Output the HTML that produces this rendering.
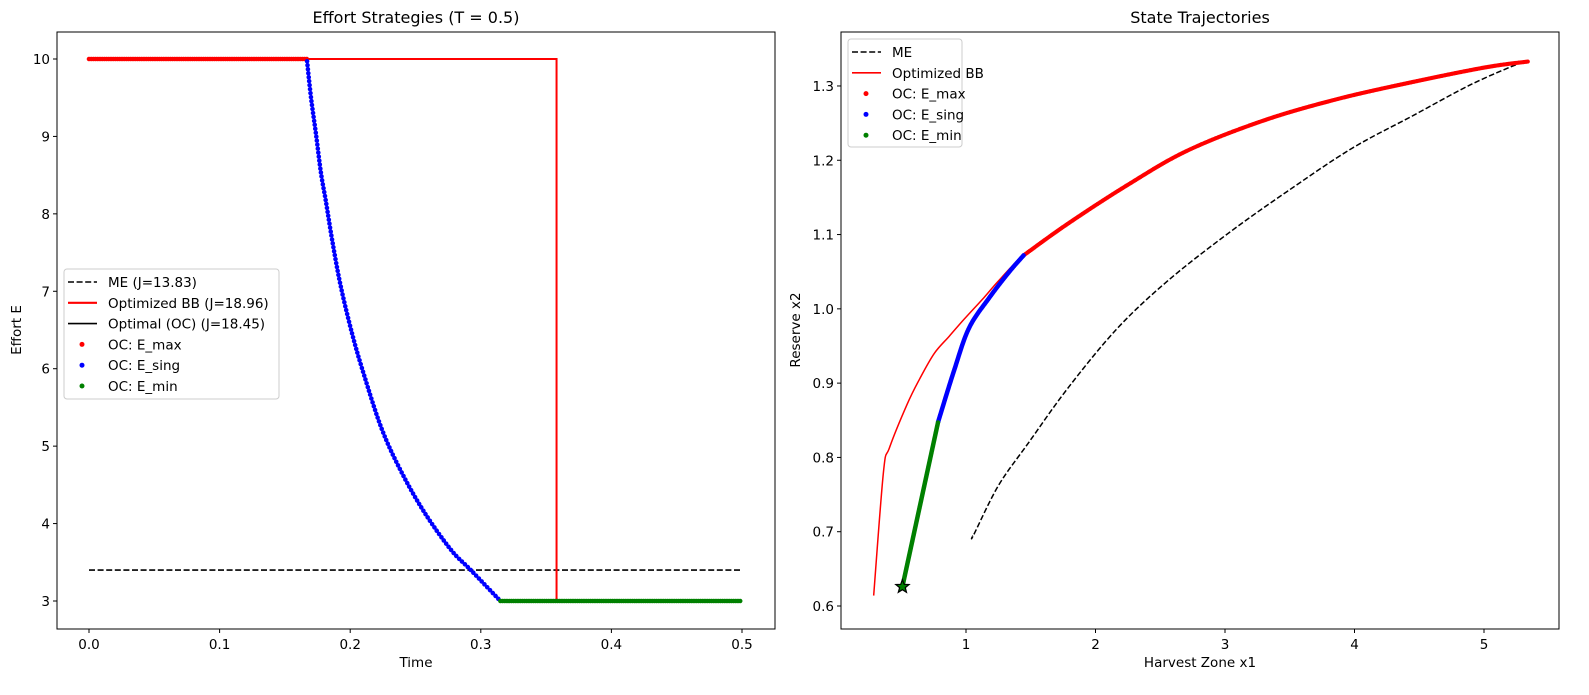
<!DOCTYPE html>
<html><head><meta charset="utf-8"><style>
body{margin:0;background:#fff;}
svg text{font-family:"DejaVu Sans","Liberation Sans",sans-serif;fill:#000;}
</style></head><body>
<svg id="fig" width="1589" height="690" xmlns="http://www.w3.org/2000/svg">
<rect width="1589" height="690" fill="#fff"/>
<g id="left"></g>
<g id="right"></g>
</svg>
<script>
// ---- Left chart data ----
const leftXTicks = [0.0, 0.1, 0.2, 0.3, 0.4, 0.5];
const leftYTicks = [3, 4, 5, 6, 7, 8, 9, 10];
const meT = [0, 0.5];
const meE = [3.4, 3.4];
const bbT = [0, 0.358, 0.358, 0.5];
const bbE = [10, 10, 3, 3];
const emaxT = [0, 0.167];
const emaxE = [10, 10];
const esingT = [0.167, 0.170, 0.1738, 0.1776, 0.1814, 0.1864, 0.1927, 0.2015, 0.2104, 0.2242, 0.2394, 0.257, 0.2772, 0.2923, 0.315];
const esingE = [9.97, 9.50, 9.03, 8.53, 8.16, 7.64, 7.07, 6.45, 5.93, 5.22, 4.66, 4.14, 3.66, 3.40, 3.0];
const eminT = [0.315, 0.5];
const eminE = [3, 3];
// ---- Right chart data ----
const rightXTicks = [1, 2, 3, 4, 5];
const rightYTicks = [0.6, 0.7, 0.8, 0.9, 1.0, 1.1, 1.2, 1.3];
const meX1 = [1.05, 1.06, 1.25, 1.48, 1.79, 2.17, 2.56, 3.02, 3.48, 3.98, 4.44, 4.90, 5.28, 5.33];
const meX2 = [0.694, 0.696, 0.762, 0.819, 0.894, 0.974, 1.038, 1.101, 1.158, 1.216, 1.259, 1.302, 1.331, 1.333];
const bbX1 = [0.287, 0.363, 0.409, 0.544, 0.64, 0.755, 0.87, 0.985, 1.138, 1.253, 1.445, 1.79, 2.25, 2.71, 3.29, 3.86, 4.44, 5.01, 5.345];
const bbX2 = [0.614, 0.781, 0.813, 0.871, 0.905, 0.94, 0.963, 0.986, 1.015, 1.038, 1.072, 1.115, 1.167, 1.213, 1.253, 1.282, 1.305, 1.325, 1.333];
const maxX1 = [1.445, 1.79, 2.25, 2.71, 3.29, 3.86, 4.44, 5.01, 5.345];
const maxX2 = [1.072, 1.115, 1.167, 1.213, 1.253, 1.282, 1.305, 1.325, 1.333];
const singX1 = [0.785, 0.908, 1.023, 1.18, 1.33, 1.445];
const singX2 = [0.848, 0.917, 0.974, 1.015, 1.049, 1.072];
const minX1 = [0.509, 0.785];
const minX2 = [0.626, 0.848];
const startX1 = 0.509, startX2 = 0.626;

const NS = "http://www.w3.org/2000/svg";
function mk(parent, tag, attrs){const e=document.createElementNS(NS,tag);for(const k in attrs)e.setAttribute(k,attrs[k]);parent.appendChild(e);return e;}
function pathD(xs,ys,fx,fy){
  // Catmull-Rom smoothing through the data points
  const P=xs.map((v,i)=>[fx(v),fy(ys[i])]);
  let d='M'+P[0][0].toFixed(2)+','+P[0][1].toFixed(2);
  for(let i=0;i<P.length-1;i++){
    const p0=P[i-1]||P[i],p1=P[i],p2=P[i+1],p3=P[i+2]||P[i+1];
    const straight=(p1[0]===p2[0]||p1[1]===p2[1]);
    if(straight||P.length<3){d+='L'+p2[0].toFixed(2)+','+p2[1].toFixed(2);continue;}
    const c1=[p1[0]+(p2[0]-p0[0])/6,p1[1]+(p2[1]-p0[1])/6];
    const c2=[p2[0]-(p3[0]-p1[0])/6,p2[1]-(p3[1]-p1[1])/6];
    d+='C'+c1.map(v=>v.toFixed(2)).join(',')+' '+c2.map(v=>v.toFixed(2)).join(',')+' '+p2[0].toFixed(2)+','+p2[1].toFixed(2);
  }
  return d;
}
function linD(xs,ys,fx,fy){return xs.map((v,i)=>(i?'L':'M')+fx(v).toFixed(2)+','+fy(ys[i]).toFixed(2)).join('');}

const L = document.getElementById('left');
const lx = v => 89 + v*1306;
const ly = v => 601 - (v-3)*77.43;
function frame(g, x0,y0,x1,y1){
  const r = mk(g,'rect',{x:x0,y:y0,width:x1-x0,height:y1-y0,fill:'none',stroke:'#000','stroke-width':1});
  
  
}
function ticks(g, xt, yt, fx, fy, x0, y1, fmtx, fmty){
  xt.forEach(v=>{const X=fx(v);
    const t=mk(g,'line',{x1:X,x2:X,y1:y1,y2:y1+4,stroke:'#000'});
    
    
    const tx=mk(g,'text',{x:X,y:y1+20,'font-size':'13.5','text-anchor':'middle'});tx.textContent=fmtx(v);
    
    });
  yt.forEach(v=>{const Y=fy(v);
    const t=mk(g,'line',{x1:x0-4,x2:x0,y1:Y,y2:Y,stroke:'#000'});
    
    
    const tx=mk(g,'text',{x:x0-7,y:Y+5,'font-size':'13.5','text-anchor':'end'});tx.textContent=fmty(v);
    
    });
}
function txt(g,name,s,attrs){const t=mk(g,'text',attrs);t.textContent=s;return t;}

ticks(L, leftXTicks, leftYTicks, lx, ly, 57, 629, v=>v.toFixed(1), v=>String(v));
txt(L,'chart-title','Effort Strategies (T = 0.5)',{x:416,y:23,'font-size':'16','text-anchor':'middle'});
txt(L,'x-axis-title','Time',{x:416,y:667,'font-size':'13.5','text-anchor':'middle'});
txt(L,'y-axis-title','Effort E',{x:21,y:330,'font-size':'13.5','text-anchor':'middle',transform:'rotate(-90 21 330)'});

let p;
p=mk(L,'path',{d:linD(meT,meE,lx,ly),fill:'none',stroke:'#000','stroke-width':1.6,'stroke-dasharray':'6,2.6'});


p=mk(L,'path',{d:linD(bbT,bbE,lx,ly),fill:'none',stroke:'#f00','stroke-width':2});


function dots(g,name,xs,ys,fx,fy,color,w,gap){
  const e=mk(g,'path',{d:pathD(xs,ys,fx,fy),fill:'none',stroke:color,'stroke-width':w,'stroke-linecap':'round','stroke-dasharray':'0 '+gap});
  
  
}
dots(L,'oc-emax-points',emaxT,emaxE,lx,ly,'#f00',4.6,2.2);
dots(L,'oc-esing-points',esingT,esingE,lx,ly,'#00f',4.6,4);
dots(L,'oc-emin-points',eminT,eminE,lx,ly,'#008000',4.6,2.2);
frame(L,57,32,775,629);

function legend(g,x,y,w,h,items,name){
  const lg=mk(g,'g',{});
  
  
  mk(lg,'rect',{x:x,y:y,width:w,height:h,rx:3,fill:'#fff','fill-opacity':0.85,stroke:'#ccc'});
  items.forEach((it,i)=>{const Y=y+13+i*20.8;
    const ent=mk(lg,'g',{});
    
    
    if(it.t==='dash') mk(ent,'line',{x1:x+4,x2:x+33,y1:Y,y2:Y,stroke:'#000','stroke-width':1.6,'stroke-dasharray':'6,2.6'});
    else if(it.t==='line') mk(ent,'line',{x1:x+4,x2:x+33,y1:Y,y2:Y,stroke:it.c,'stroke-width':it.w});
    else mk(ent,'circle',{cx:x+18,cy:Y,r:2.5,fill:it.c});
    const tt=mk(ent,'text',{x:x+44,y:Y+5,'font-size':'13.5'});tt.textContent=it.s;});
}
legend(L,64,269,215,130,[
 {t:'dash',s:'ME (J=13.83)'},{t:'line',c:'#f00',w:2.2,s:'Optimized BB (J=18.96)'},
 {t:'line',c:'#000',w:1.6,s:'Optimal (OC) (J=18.45)'},{t:'dot',c:'#f00',s:'OC: E_max'},
 {t:'dot',c:'#00f',s:'OC: E_sing'},{t:'dot',c:'#008000',s:'OC: E_min'}],'left-legend');

const R = document.getElementById('right');
const rx = v => 966 + (v-1)*129.5;
const ry = v => 606 - (v-0.6)*742.9;
ticks(R, rightXTicks, rightYTicks, rx, ry, 841, 629, v=>String(v), v=>v.toFixed(1));
txt(R,'chart-title','State Trajectories',{x:1200,y:23,'font-size':'16','text-anchor':'middle'});
txt(R,'x-axis-title','Harvest Zone x1',{x:1200,y:667,'font-size':'13.5','text-anchor':'middle'});
txt(R,'y-axis-title','Reserve x2',{x:800,y:330,'font-size':'13.5','text-anchor':'middle',transform:'rotate(-90 800 330)'});
p=mk(R,'path',{d:pathD(meX1,meX2,rx,ry),fill:'none',stroke:'#000','stroke-width':1.5,'stroke-dasharray':'5.5,2.4'});


p=mk(R,'path',{d:pathD(bbX1,bbX2,rx,ry),fill:'none',stroke:'#f00','stroke-width':1.5});


dots(R,'oc-emax-trajectory',maxX1,maxX2,rx,ry,'#f00',4.2,1.5);
dots(R,'oc-esing-trajectory',singX1,singX2,rx,ry,'#00f',4.6,1.2);
dots(R,'oc-emin-trajectory',minX1,minX2,rx,ry,'#008000',4.6,1.2);
const sx=rx(startX1), sy=ry(startX2);
let pts=[];for(let i=0;i<10;i++){const a=-Math.PI/2+i*Math.PI/5;const r=i%2?3:7;pts.push((sx+r*Math.cos(a)).toFixed(1)+','+(sy+r*Math.sin(a)).toFixed(1));}
p=mk(R,'polygon',{points:pts.join(' '),fill:'#008000',stroke:'#000','stroke-width':1.2});


frame(R,841,32,1559,629);
legend(R,848,39,114,108,[
 {t:'dash',s:'ME'},{t:'line',c:'#f00',w:1.6,s:'Optimized BB'},{t:'dot',c:'#f00',s:'OC: E_max'},
 {t:'dot',c:'#00f',s:'OC: E_sing'},{t:'dot',c:'#008000',s:'OC: E_min'}],'right-legend');
</script>
</body></html>
